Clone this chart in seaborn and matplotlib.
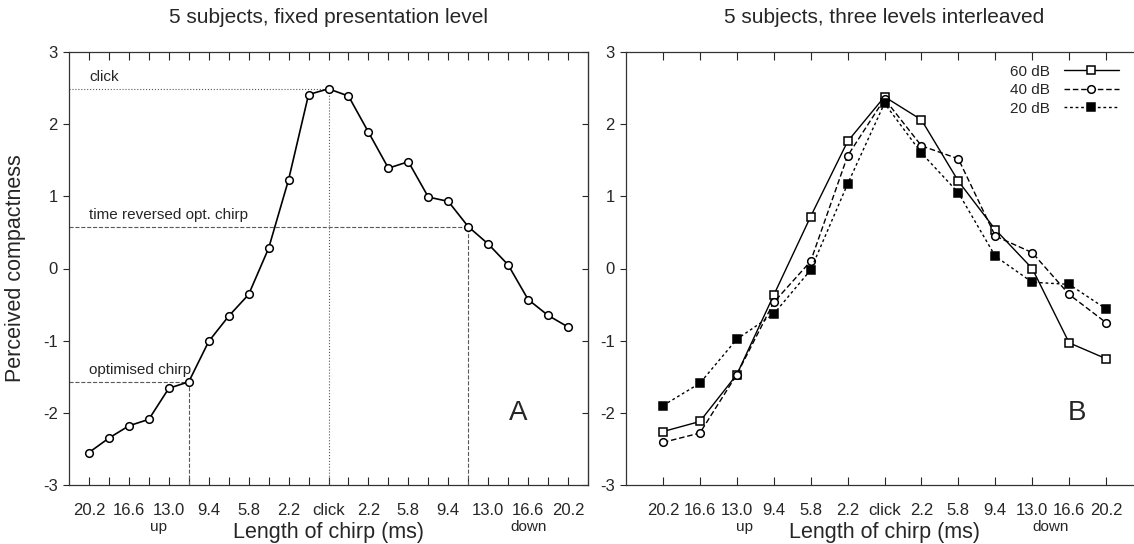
import matplotlib
matplotlib.use('Agg')
import matplotlib.pyplot as plt
import numpy as np
import pandas as pd
import seaborn as sns

# panel A: 25 chirp lengths, up-chirps -> click -> down-chirps
lengths_a = [20.2, 18.4, 16.6, 14.8, 13.0, 11.2, 9.4, 7.6, 5.8, 4.0, 2.2, 0.4, 'click',
             0.4, 2.2, 4.0, 5.8, 7.6, 9.4, 11.2, 13.0, 14.8, 16.6, 18.4, 20.2]
fixed_level = [-2.55, -2.35, -2.18, -2.09, -1.66, -1.57, -1.01, -0.66, -0.36, 0.28, 1.23, 2.41, 2.49,
               2.39, 1.89, 1.39, 1.48, 0.99, 0.93, 0.58, 0.34, 0.05, -0.43, -0.65, -0.81]

# panel B: 13 chirp lengths, three levels interleaved
lengths_b = ['20.2', '16.6', '13.0', '9.4', '5.8', '2.2', 'click',
             '2.2', '5.8', '9.4', '13.0', '16.6', '20.2']
db60 = [-2.26, -2.12, -1.47, -0.37, 0.72, 1.76, 2.38, 2.06, 1.21, 0.54, 0.00, -1.03, -1.25]
db40 = [-2.41, -2.28, -1.47, -0.47, 0.10, 1.56, 2.35, 1.70, 1.52, 0.45, 0.22, -0.36, -0.75]
db20 = [-1.90, -1.59, -0.98, -0.63, -0.02, 1.17, 2.29, 1.60, 1.05, 0.17, -0.19, -0.22, -0.56]

sns.set_style('white')
plt.rcParams['font.family'] = ['Liberation Sans', 'DejaVu Sans']
plt.rcParams['axes.unicode_minus'] = False

W, H = 1134, 544
fig = plt.figure(figsize=(W / 100, H / 100), dpi=100)
axA = fig.add_axes([69 / W, (H - 485) / H, (588 - 69) / W, (485 - 52) / H])
axB = fig.add_axes([626 / W, (H - 485) / H, (1143 - 626) / W, (485 - 52) / H])

dfA = pd.DataFrame({'pos': np.arange(len(lengths_a)), 'val': fixed_level})
sns.lineplot(data=dfA, x='pos', y='val', ax=axA, color='black', lw=1.2,
             marker='o', ms=5.5, mfc='white', mec='black', mew=1.1)

# reference lines (click, time reversed opt. chirp, optimised chirp)
refs = [(12, ':', 'click'), (19, '--', 'time reversed opt. chirp'), (5, '--', 'optimised chirp')]
for i, ls, txt in refs:
    v = fixed_level[i]
    axA.plot([-1, i], [v, v], ls=ls, color='0.35', lw=0.8, zorder=1)
    axA.plot([i, i], [-3, v], ls=ls, color='0.35', lw=0.8, zorder=1)
    axA.text(0, v + 0.06, txt, fontsize=11, va='bottom', ha='left')

xb = np.arange(len(lengths_b))
dfB = pd.DataFrame({'pos': np.tile(xb, 3), 'val': db60 + db40 + db20,
                    'level': ['60 dB'] * 13 + ['40 dB'] * 13 + ['20 dB'] * 13})
styles = {'60 dB': dict(marker='s', mfc='white', dashes=(None, None)),
          '40 dB': dict(marker='o', mfc='white', dashes=(4, 2)),
          '20 dB': dict(marker='s', mfc='black', dashes=(2, 2))}
for lev, st in styles.items():
    sub = dfB[dfB['level'] == lev]
    kw = dict(marker=st['marker'], ms=5.5, mfc=st['mfc'], mec='black', mew=1.1)
    sns.lineplot(data=sub, x='pos', y='val', ax=axB, color='black', lw=1.0,
                 label=lev, **kw)
for ln, (lev, st) in zip(axB.get_lines(), styles.items()):
    if st['dashes'][0] is not None:
        ln.set_dashes(st['dashes'])
axB.legend(loc='upper right', bbox_to_anchor=(0.965, 0.985), frameon=False,
           markerfirst=False, handlelength=3.6, fontsize=11, labelspacing=0.3,
           handletextpad=0.9, borderaxespad=0)

for ax, labels, up_x, down_x, panel, panel_x, title in [
        (axA, [str(l) if i % 2 == 0 else '' for i, l in enumerate(lengths_a)], 3.5, 22, 'A', 21.5,
         '5 subjects, fixed presentation level'),
        (axB, lengths_b, 2.2, 10.5, 'B', 11.2, '5 subjects, three levels interleaved')]:
    n = len(labels)
    ax.set_xlim(-1, n)
    ax.set_ylim(-3, 3)
    ax.set_xticks(np.arange(n))
    ax.set_xticklabels(labels)
    ax.set_yticks(range(-3, 4))
    ax.tick_params(axis='x', direction='in', top=True, bottom=True, length=6, width=0.8,
                   labelsize=12, pad=13)
    ax.tick_params(axis='y', direction='out', left=True, length=4, width=0.8,
                   labelsize=12, pad=4)
    ax.set_xlabel('Length of chirp (ms)', fontsize=15.5, labelpad=3)
    ax.set_ylabel('')
    ax.set_title(title, fontsize=15, pad=21)
    ax.annotate('up', xy=(up_x, 0), xycoords=('data', 'axes fraction'), xytext=(0, -30),
                textcoords='offset points', ha='center', va='center', fontsize=11)
    ax.annotate('down', xy=(down_x, 0), xycoords=('data', 'axes fraction'), xytext=(0, -30),
                textcoords='offset points', ha='center', va='center', fontsize=11)
    ax.text(panel_x, -2.0, panel, fontsize=20, ha='center', va='center')
    for s in ax.spines.values():
        s.set_linewidth(0.9)
        s.set_color('0.2')

sec = axA.secondary_yaxis('right')
sec.set_yticks(range(-3, 4))
sec.tick_params(direction='in', length=4, width=0.8, labelright=False)

axA.set_ylabel('Perceived compactness', fontsize=15.5, labelpad=12)

fig.savefig('out.png', dpi=100)
